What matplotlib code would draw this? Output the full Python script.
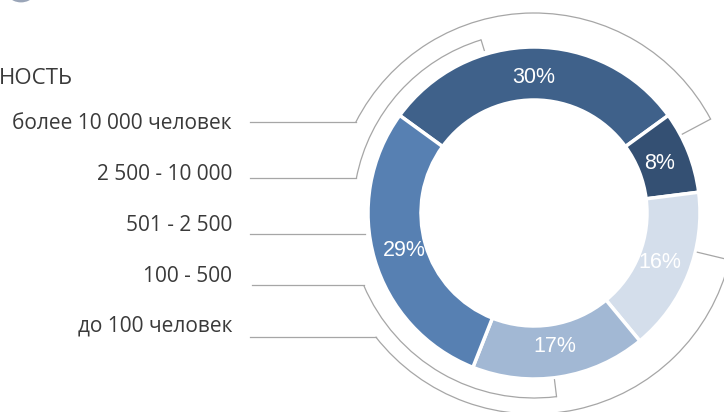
import numpy as np
import matplotlib
matplotlib.use("Agg")
import matplotlib.pyplot as plt
from matplotlib.patches import Arc

# данные
pct_values = [30, 8, 16, 17, 29]
pct_colors = ["#3F618A", "#345073", "#D4DEEB", "#A2B8D4", "#5780B2"]
categories = ["более 10 000 человек", "2 500 - 10 000", "501 - 2 500", "100 - 500", "до 100 человек"]
title_tail = "НОСТЬ"

W, H = 724, 412
cx, cy = 534, H - 213      # центр кольца (в пикселях, y вверх)
R, ring = 166, 53

fig = plt.figure(figsize=(W / 100, H / 100), dpi=100)
ax = fig.add_axes([0, 0, 1, 1])

ax.pie(pct_values, colors=pct_colors, startangle=144, counterclock=False,
       radius=R, center=(cx, cy),
       wedgeprops=dict(width=ring, edgecolor="white", linewidth=2.5),
       autopct=lambda p: f"{p:.0f}%", pctdistance=0.815,
       textprops=dict(color="white", fontsize=15.5, family="Liberation Sans"))

ax.set_xlim(0, W)
ax.set_ylim(0, H)
ax.set_aspect("equal")
ax.axis("off")

line_col = "#A6A6A6"


def pt(r, th):
    t = np.radians(th)
    return cx + r * np.sin(t), cy + r * np.cos(t)


def bracket(r, th_start, th_end, tick_r, lead_x):
    # дуга по часовой от th_start до th_end (градусы от верха)
    ax.add_patch(Arc((cx, cy), 2 * r, 2 * r, theta1=90 - th_end, theta2=90 - th_start,
                     color=line_col, lw=0.9))
    # засечка внутрь на конце th_end
    x0, y0 = pt(r, th_end)
    x1, y1 = pt(tick_r, th_end)
    ax.plot([x0, x1], [y0, y1], color=line_col, lw=0.9)
    # выноска влево от начала дуги
    xs, ys = pt(r, th_start)
    ax.plot([lead_x, xs], [ys, ys], color=line_col, lw=0.9)


bracket(200, -63, 62, 168, 250)
bracket(181, -79, -17, 170, 250)
# нижние дуги идут против часовой от выноски
ax.add_patch(Arc((cx, cy), 370, 370, theta1=90 - 247, theta2=90 - 173, color=line_col, lw=0.9))
x0, y0 = pt(185, 173); x1, y1 = pt(168, 173)
ax.plot([x0, x1], [y0, y1], color=line_col, lw=0.9)
xs, ys = pt(185, 247)
ax.plot([252, xs], [ys, ys], color=line_col, lw=0.9)

ax.add_patch(Arc((cx, cy), 402, 402, theta1=90 - 232, theta2=90 - 103.5, color=line_col, lw=0.9))
x0, y0 = pt(201, 103.5); x1, y1 = pt(168, 103.5)
ax.plot([x0, x1], [y0, y1], color=line_col, lw=0.9)
xs, ys = pt(201, 232)
ax.plot([250, xs], [ys, ys], color=line_col, lw=0.9)

ax.plot([250, 365], [H - 234, H - 234], color=line_col, lw=0.9)

# подписи категорий
label_y = [123, 174, 225, 276, 326]
for name, y in zip(categories, label_y):
    ax.text(232, H - y, name, ha="right", va="center", fontsize=15,
            color="#3A3A3A", family="Open Sans")

ax.text(-1, H - 78, title_tail, ha="left", va="center", fontsize=16,
        color="#3A3A3A", family="Open Sans")

# кусочек значка в левом верхнем углу
ax.add_patch(Arc((21, H + 9), 26, 20, theta1=200, theta2=340, color="#9AA5B8", lw=2))

fig.savefig("out.png", dpi=100)
